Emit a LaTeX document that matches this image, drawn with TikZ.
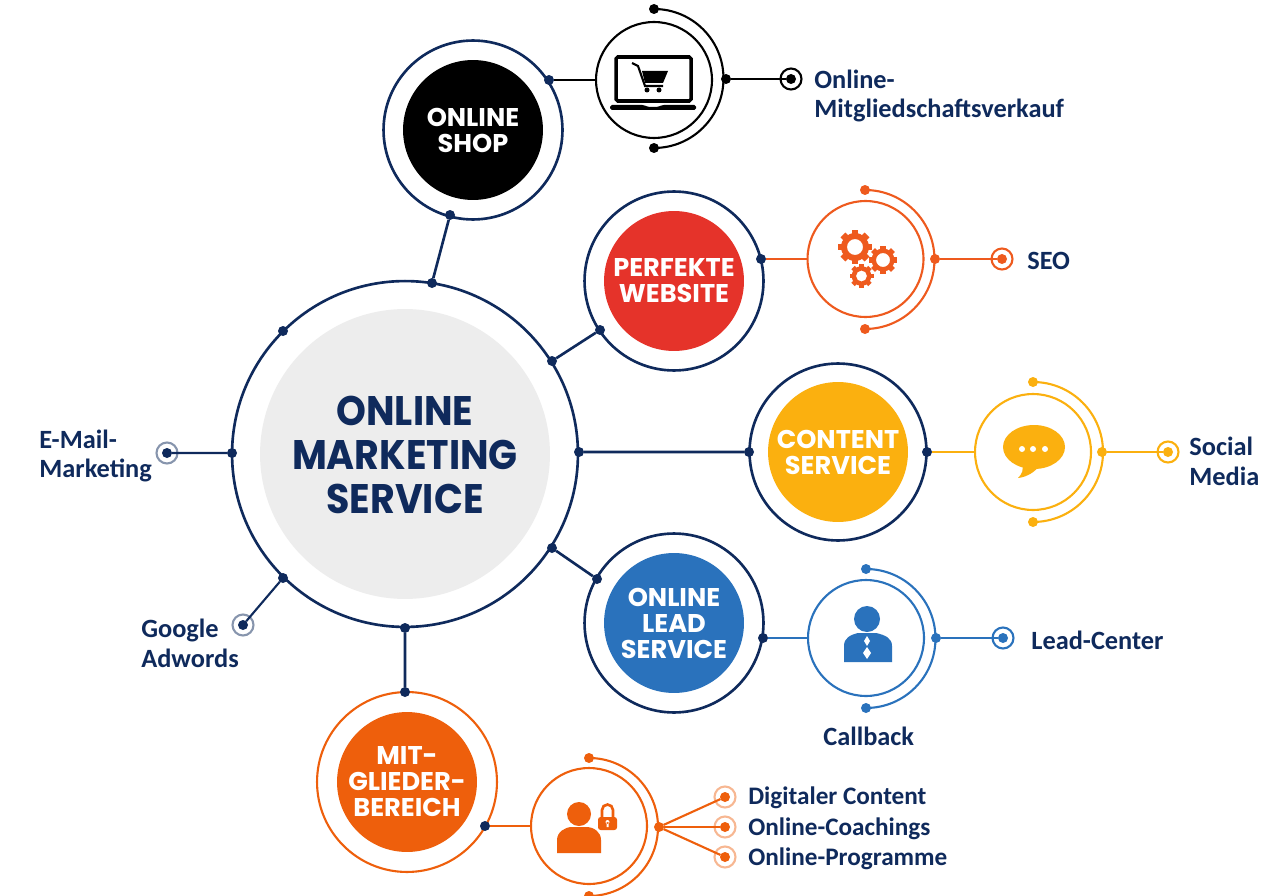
\documentclass[tikz,border=0pt]{standalone}
\usepackage{fontspec}
\setmainfont{Carlito}
\newfontfamily\headfont{Poppins}
\newfontfamily\bigheadfont[FakeStretch=.92]{Poppins}
\usepackage{tikz}
\definecolor{navy}{HTML}{0F2A5C}
\definecolor{shopcol}{HTML}{000000}
\definecolor{seocol}{HTML}{EE5A1E}
\definecolor{webred}{HTML}{E5332A}
\definecolor{contentcol}{HTML}{FBB00F}
\definecolor{leadcol}{HTML}{2A72BC}
\definecolor{mitcol}{HTML}{EE5F0C}
\tikzset{
  ring/.style={circle,draw=#1,line width=1.2pt,inner sep=0,outer sep=0,fill=white},
  size/.style={minimum size=#1*0.04cm},
  dot/.style={circle,fill=#1,inner sep=0,outer sep=0,minimum size=.2cm},
  link/.style={line width=1.2pt},
  head/.style={text=white,align=center,font=\headfont\bfseries\fontsize{14.6pt}{14.8pt}\selectfont},
  lab/.style={text=navy,align=left,anchor=west,inner sep=0,font=\bfseries\fontsize{15pt}{17pt}\selectfont},
  sublab/.style={lab,font=\bfseries\fontsize{14.35pt}{17pt}\selectfont},
}
\newcommand{\gearicon}[4]{%
  \foreach \a in {0,45,...,315}
    \fill[seocol,rotate around={\a:(#1,#2)}] (#1-#3*.2,#2-#3) rectangle (#1+#3*.2,#2-#3*.7);
  \fill[seocol,even odd rule] (#1,#2) circle[radius=#3*.82] (#1,#2) circle[radius=#4];
}
\begin{document}
\begin{tikzpicture}[x=.02cm,y=-.02cm]
  \useasboundingbox (0,0) rectangle (1280,895);
  % main circle
  \node[ring=navy,line width=1.5pt,size=173] (main) at (405,454) {};
  \node[circle,fill=black!7,inner sep=0,size=145] (core) at (405,454) {};
  \node[text=navy,align=center,font=\bigheadfont\bfseries\fontsize{23.5pt}{25pt}\selectfont] (maintxt) at (405,455) {ONLINE\\MARKETING\\SERVICE};
  % five services
  \node[ring=navy,line width=1.5pt,size=89.5] (r1) at (473,130) {};
  \node[circle,fill=black,inner sep=0,size=70,head] (shop) at (473,130) {ONLINE\\SHOP};
  \node[ring=navy,line width=1.5pt,size=89.5] (r2) at (674,281) {};
  \node[circle,fill=webred,inner sep=0,size=70,head] (web) at (674,281) {PERFEKTE\\WEBSITE};
  \node[ring=navy,line width=1.5pt,size=88.5] (r3) at (838,452) {};
  \node[circle,fill=contentcol,inner sep=0,size=70,head] (content) at (838,452) {CONTENT\\SERVICE};
  \node[ring=navy,line width=1.5pt,size=89.5] (r4) at (674,623) {};
  \node[circle,fill=leadcol,inner sep=0,size=70,head] (lead) at (674,623) {ONLINE\\LEAD\\SERVICE};
  \node[ring=mitcol,size=90] (r5) at (407,782) {};
  \node[circle,fill=mitcol,inner sep=0,size=70,head] (mit) at (407,782) {MIT-\\GLIEDER-\\BEREICH};
  % dots on the rings
  \node[dot=navy] (d1) at (432,283) {};
  \node[dot=navy] (d1a) at (450,215) {};
  \node[dot=navy] (d2) at (552,361) {};
  \node[dot=navy] (d2a) at (600,330) {};
  \node[dot=navy] (d3) at (579,452) {};
  \node[dot=navy] (d3a) at (749,452) {};
  \node[dot=navy] (d4) at (552,548) {};
  \node[dot=navy] (d4a) at (597,579) {};
  \node[dot=navy] (d5) at (405,628) {};
  \node[dot=navy] (d5a) at (405,692) {};
  \node[dot=navy] (d6) at (283,331) {};
  \node[dot=navy] (d7) at (232,453) {};
  \node[dot=navy] (d8) at (283,578) {};
  \draw[navy,line width=1.5pt] (d1) -- (d1a) (d2) -- (d2a) (d3) -- (d3a) (d4) -- (d4a) (d5) -- (d5a);
  % left side targets
  \node[ring=navy!50,size=10.5] (t7o) at (167,453) {};
  \node[dot=navy] (t7) at (167,453) {};
  \node[ring=navy!50,size=10.5] (t8o) at (243,625) {};
  \node[dot=navy] (t8) at (243,625) {};
  \draw[navy,link] (d7) -- (t7) (d8) -- (t8);
  \node[lab] (l7) at (39,456) {E-Mail-\\Marketing};
  \node[lab] (l8) at (141,643) {Google\\Adwords};
  % satellites, one scope each
  \begin{scope}[shopcol]
    \node[dot=navy] (o1) at (549,80) {};
    \node[ring=shopcol,size=58] (i1) at (654,80) {};
    \node[dot=shopcol] (a1) at (654,9) {};
    \node[dot=shopcol] (b1) at (654,148) {};
    \node[dot=shopcol] (c1) at (726,79) {};
    \node[ring=shopcol,size=10.5] (t1o) at (791,79) {};
    \node[dot=shopcol] (t1) at (791,79) {};
    \draw[link] (a1.center) arc[start angle=90,end angle=-90,radius=1.39cm];
    \draw[link] (o1) -- (i1) (c1) -- (t1);
    % laptop and cart
    \draw[line width=2pt,rounded corners=1pt] (616,57) rectangle (691,101);
    \fill[rounded corners=1pt] (610,105) -- (644,105) -- (648,107) -- (658,107) -- (662,105) -- (696,105) -- (696,110) -- (610,110) -- cycle;
    \draw[line width=1.2pt] (632,63) -- (638,66) -- (645,86) -- (663,86);
    \fill (642,71) -- (668,71) -- (663,83) -- (645,83) -- cycle;
    \fill (647,90) circle[radius=2.5] (659,90) circle[radius=2.5];
  \end{scope}
  \node[lab] (l1) at (814,96) {Online-\\Mitgliedschaftsverkauf};
  \begin{scope}[seocol]
    \node[dot=navy] (o2) at (761,259) {};
    \node[ring=seocol,size=58] (i2) at (865.5,259) {};
    \node[dot=seocol] (a2) at (865,190) {};
    \node[dot=seocol] (b2) at (865,329) {};
    \node[dot=seocol] (c2) at (935,259) {};
    \node[ring=seocol,size=10.5] (t2o) at (1002,259) {};
    \node[dot=seocol] (t2) at (1002,259) {};
    \draw[link] (a2.center) arc[start angle=90,end angle=-90,radius=1.39cm];
    \draw[link] (o2) -- (i2) (c2) -- (t2);
    \gearicon{855}{247}{17}{8}
    \gearicon{883}{260}{14}{7}
    \gearicon{861.5}{276}{12}{5.5}
  \end{scope}
  \node[lab] (l2) at (1027,260.5) {SEO};
  \begin{scope}[contentcol]
    \node[dot=navy] (o3) at (927,452) {};
    \node[ring=contentcol,size=58] (i3) at (1033,452) {};
    \node[dot=contentcol] (a3) at (1033,382) {};
    \node[dot=contentcol] (b3) at (1033,522) {};
    \node[dot=contentcol] (c3) at (1102,452) {};
    \node[ring=contentcol,size=10.5] (t3o) at (1168,452) {};
    \node[dot=contentcol] (t3) at (1168,452) {};
    \draw[link] (a3.center) arc[start angle=90,end angle=-90,radius=1.4cm];
    \draw[link] (o3) -- (i3) (c3) -- (t3);
    % speech bubble
    \fill (1034,447) ellipse[x radius=31,y radius=22];
    \fill (1022,462) .. controls (1024,470) and (1022,474) .. (1018,478) .. controls (1027,477) and (1035,472) .. (1040,465) -- cycle;
    \fill[white] (1022,449) circle[radius=3] (1033,449) circle[radius=3] (1045,449) circle[radius=3];
  \end{scope}
  \node[lab] (l3) at (1189,461) {Social\\Media};
  \begin{scope}[leadcol]
    \node[dot=navy] (o4) at (763,638) {};
    \node[ring=leadcol,size=58] (i4) at (866,638) {};
    \node[dot=leadcol] (a4) at (866,569) {};
    \node[dot=leadcol] (b4) at (866,708) {};
    \node[dot=leadcol] (c4) at (936,638) {};
    \node[ring=leadcol,size=10.5] (t4o) at (1003,638) {};
    \node[dot=leadcol] (t4) at (1003,638) {};
    \draw[link] (a4.center) arc[start angle=90,end angle=-90,radius=1.39cm];
    \draw[link] (o4) -- (i4) (c4) -- (t4);
    % person with tie
    \fill (867,619) circle[radius=13];
    \fill (844,662) -- (844,646) .. controls (844,638) and (850,635) .. (858,633) -- (876,633) .. controls (885,635) and (892,638) .. (892,646) -- (892,662) -- cycle;
    \fill[white] (867,636) -- (870,641) -- (867,646) -- (864,641) -- cycle;
    \fill[white] (867,647) -- (871,653) -- (867,659) -- (863,653) -- cycle;
  \end{scope}
  \node[lab] (l4) at (1031,640) {Lead-Center};
  \node[lab] (l4a) at (823,736) {Callback};
  \begin{scope}[mitcol]
    \node[dot=navy] (o5) at (485,826) {};
    \node[ring=mitcol,size=58] (i5) at (589,826) {};
    \node[dot=mitcol] (a5) at (589,758) {};
    \node[dot=mitcol] (b5) at (589,896) {};
    \node[dot=mitcol] (c5) at (659,827) {};
    \draw[link] (a5.center) arc[start angle=90,end angle=-90,radius=1.38cm];
    \foreach \n/\yy in {1/797,2/827,3/857} {
      \node[ring=mitcol!45,size=10.5] (t5\n o) at (725,\yy) {};
      \node[dot=mitcol] (t5\n) at (725,\yy) {};
      \draw[link] (c5) -- (t5\n);
    }
    \draw[link] (o5) -- (i5);
    % person with lock
    \fill (579,814) circle[radius=12];
    \fill (557,853) -- (557,840) .. controls (557,832) and (565,827) .. (572,827) -- (586,827) .. controls (594,827) and (601,832) .. (601,840) -- (601,853) -- cycle;
    \draw[line width=1.5pt] (602,818) -- (602,810) arc[start angle=180,end angle=0,radius=.11cm] -- (613,818);
    \fill[rounded corners=1.5pt] (598,817) rectangle (617,830);
    \fill[white] (607.5,822) circle[radius=2] (606.5,822) rectangle (608.5,827);
  \end{scope}
  \node[sublab] (l5a) at (748,798) {Digitaler Content};
  \node[sublab] (l5b) at (748,829) {Online-Coachings};
  \node[sublab] (l5c) at (748,859) {Online-Programme};
\end{tikzpicture}
\end{document}
